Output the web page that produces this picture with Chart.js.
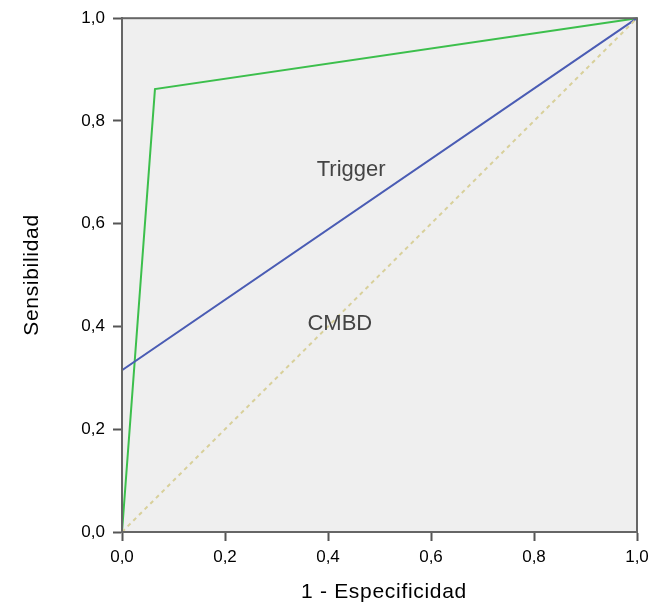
<!DOCTYPE html>
<html>
<head>
<meta charset="utf-8">
<script src="https://cdn.jsdelivr.net/npm/chart.js@4"></script>
<style>
  body { margin: 0; background: #fff; }
  canvas { display: block; }
</style>
</head>
<body>
<canvas id="rocChart" width="661" height="605"></canvas>
<script>
// Datos de la curva ROC
const triggerX = [0, 0.064, 1];
const triggerY = [0, 0.862, 1];
const cmbdX = [0, 0, 1];
const cmbdY = [0, 0.315, 1];
const refX = [0, 1];
const refY = [0, 1];
const tickValues = [0, 0.2, 0.4, 0.6, 0.8, 1];
const tickLabels = ['0,0', '0,2', '0,4', '0,6', '0,8', '1,0'];

// Etiquetas dentro del gráfico (en coordenadas de datos)
const seriesLabels = [
    { text: 'Trigger', x: 0.445, y: 0.704 },
    { text: 'CMBD', x: 0.423, y: 0.405 }
];

const toPoints = (xs, ys) => xs.map((x, i) => ({ x: x, y: ys[i] }));
const fmt = v => {
    const i = tickValues.findIndex(t => Math.abs(t - v) < 1e-6);
    return i >= 0 ? tickLabels[i] : '';
};

const FONT = '"Liberation Sans", Arial, Helvetica, sans-serif';

const framePlugin = {
    id: 'frame',
    beforeDraw(chart) {
        const { ctx, chartArea: a } = chart;
        ctx.save();
        ctx.fillStyle = '#efefef';
        ctx.fillRect(a.left, a.top, a.right - a.left, a.bottom - a.top);
        ctx.restore();
    },
    afterDraw(chart) {
        const { ctx, chartArea: a, scales } = chart;
        ctx.save();
        ctx.strokeStyle = '#666';
        ctx.lineWidth = 2;
        ctx.strokeRect(a.left, a.top, a.right - a.left, a.bottom - a.top);

        // etiquetas de las series
        ctx.fillStyle = '#444';
        ctx.font = '22px ' + FONT;
        ctx.textAlign = 'center';
        ctx.textBaseline = 'middle';
        seriesLabels.forEach(l => {
            ctx.fillText(l.text, scales.x.getPixelForValue(l.x), scales.y.getPixelForValue(l.y));
        });

        // títulos de los ejes
        ctx.fillStyle = '#000';
        ctx.font = '21px ' + FONT;
        ctx.letterSpacing = '0.7px';
        ctx.fillText('1 - Especificidad', 384, 592);
        ctx.translate(32, 275);
        ctx.rotate(-Math.PI / 2);
        ctx.fillText('Sensibilidad', 0, 0);
        ctx.restore();
    }
};

new Chart(document.getElementById('rocChart'), {
    type: 'scatter',
    data: {
        datasets: [
            {
                label: 'Referencia',
                data: toPoints(refX, refY),
                showLine: true,
                borderColor: '#d8d09a',
                borderWidth: 2,
                borderDash: [4, 4],
                pointRadius: 0,
                clip: false
            },
            {
                label: 'CMBD',
                data: toPoints(cmbdX, cmbdY),
                showLine: true,
                borderColor: '#4a5cb4',
                borderWidth: 2,
                pointRadius: 0,
                clip: false
            },
            {
                label: 'Trigger',
                data: toPoints(triggerX, triggerY),
                showLine: true,
                borderColor: '#3cbf4c',
                borderWidth: 2,
                pointRadius: 0,
                clip: false
            }
        ]
    },
    options: {
        responsive: false,
        animation: false,
        layout: { padding: { top: 18, right: 24, left: 0, bottom: 0 } },
        plugins: {
            legend: { display: false },
            tooltip: { enabled: false }
        },
        scales: {
            x: {
                type: 'linear',
                min: 0,
                max: 1,
                afterBuildTicks: s => { s.ticks = tickValues.map(v => ({ value: v })); },
                afterFit: s => { s.height = 73; },
                ticks: {
                    callback: fmt,
                    color: '#000',
                    padding: 6,
                    maxRotation: 0,
                    font: { size: 17, family: FONT }
                },
                grid: { drawOnChartArea: false, drawTicks: true, tickLength: 9, tickColor: '#555', tickWidth: 2 },
                border: { display: true, color: '#666', width: 2 }
            },
            y: {
                type: 'linear',
                min: 0,
                max: 1,
                afterBuildTicks: s => { s.ticks = tickValues.map(v => ({ value: v })); },
                afterFit: s => { s.width = 122; },
                ticks: {
                    callback: fmt,
                    color: '#000',
                    padding: 8,
                    font: { size: 17, family: FONT }
                },
                grid: { drawOnChartArea: false, drawTicks: true, tickLength: 9, tickColor: '#555', tickWidth: 2 },
                border: { display: true, color: '#666', width: 2 }
            }
        }
    },
    plugins: [framePlugin]
});
</script>
</body>
</html>
